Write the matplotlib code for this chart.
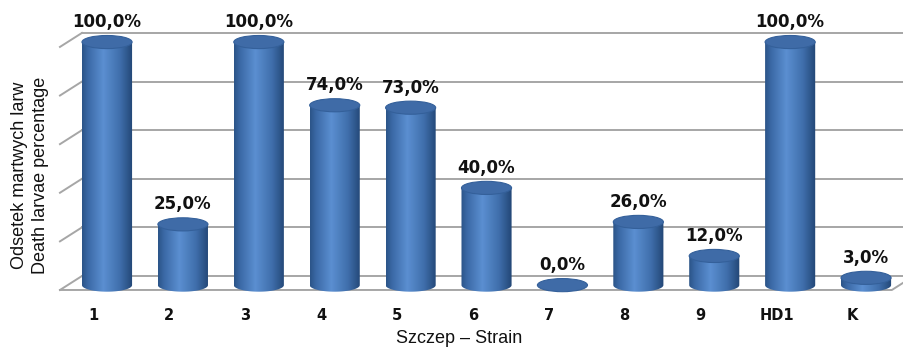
import numpy as np
import matplotlib.pyplot as plt
from matplotlib.colors import LinearSegmentedColormap
from matplotlib.patches import Ellipse, Polygon

strains = ['1', '2', '3', '4', '5', '6', '7', '8', '9', 'HD1', 'K']
death_pct = [100.0, 25.0, 100.0, 74.0, 73.0, 40.0, 0.0, 26.0, 12.0, 100.0, 3.0]
grid_vals = [0, 20, 40, 60, 80, 100]

# fake 3d geometry (data units)
depth_x, depth_y = 0.29, 5.76
floor_x0, floor_x1 = -0.62, 10.34
base = 2.0
rx, ry = 0.33, 2.7
line_c = '#a6a6a6'

body_cmap = LinearSegmentedColormap.from_list(
    'cyl', [(0.0, '#2b5487'), (0.12, '#3b69a6'), (0.42, '#5b8fd1'),
            (0.75, '#3f6eab'), (1.0, '#224675')])

fig = plt.figure(figsize=(9.04, 3.51), dpi=100)
ax = fig.add_axes([0, 0, 1, 1])
ax.set_axis_off()

# back wall gridlines + slanted left wall ticks
for v in grid_vals:
    ax.plot([floor_x0 + depth_x, 11.5], [v + depth_y, v + depth_y],
            color=line_c, lw=1.4, zorder=1)
    ax.plot([floor_x0, floor_x0 + depth_x], [v, v + depth_y],
            color=line_c, lw=1.4, zorder=1)

# floor outline
ax.plot([floor_x0, floor_x1, floor_x1 + depth_x], [0, 0, depth_y],
        color=line_c, lw=1.4, zorder=1)

grad = np.linspace(0, 1, 256).reshape(1, -1)
for i, val in enumerate(death_pct):
    top = base + val
    if val > 0:
        t = np.linspace(np.pi, 2 * np.pi, 60)
        pts = [(i - rx, top)]
        pts += list(zip(i + rx * np.cos(t), base + ry * np.sin(t)))
        pts += [(i + rx, top)]
        clip = Polygon(pts, closed=True, facecolor='none', edgecolor='none',
                       transform=ax.transData)
        ax.add_patch(clip)
        im = ax.imshow(grad, cmap=body_cmap, aspect='auto', zorder=3,
                       extent=(i - rx, i + rx, base - ry, top),
                       interpolation='bilinear')
        im.set_clip_path(clip)
    ax.add_patch(Ellipse((i, top), 2 * rx, 2 * ry, facecolor='#3f6ba7',
                         edgecolor='#34609a', lw=0.8, zorder=4))
    ax.text(i, top + 8.3, f'{val:.1f}%'.replace('.', ','), ha='center',
            va='center', fontsize=12, fontweight='bold', color='#111111',
            zorder=5)
    ax.text(i - 0.18, -10.7, strains[i], ha='center', va='center',
            fontsize=10.5, fontweight='bold', color='#111111')

ax.set_xlim(-1.41, 10.50)
ax.set_ylim(-25.1, 119.3)

fig.text(0.033, 0.50, 'Odsetek martwych larw\nDeath larvae percentage',
         rotation=90, ha='center', va='center', fontsize=13,
         family='Liberation Sans', linespacing=1.35, color='#111111')
fig.text(0.508, 0.022, 'Szczep – Strain', ha='center', va='baseline',
         fontsize=13, family='Liberation Sans', color='#111111')

fig.savefig('out.png', dpi=100)
